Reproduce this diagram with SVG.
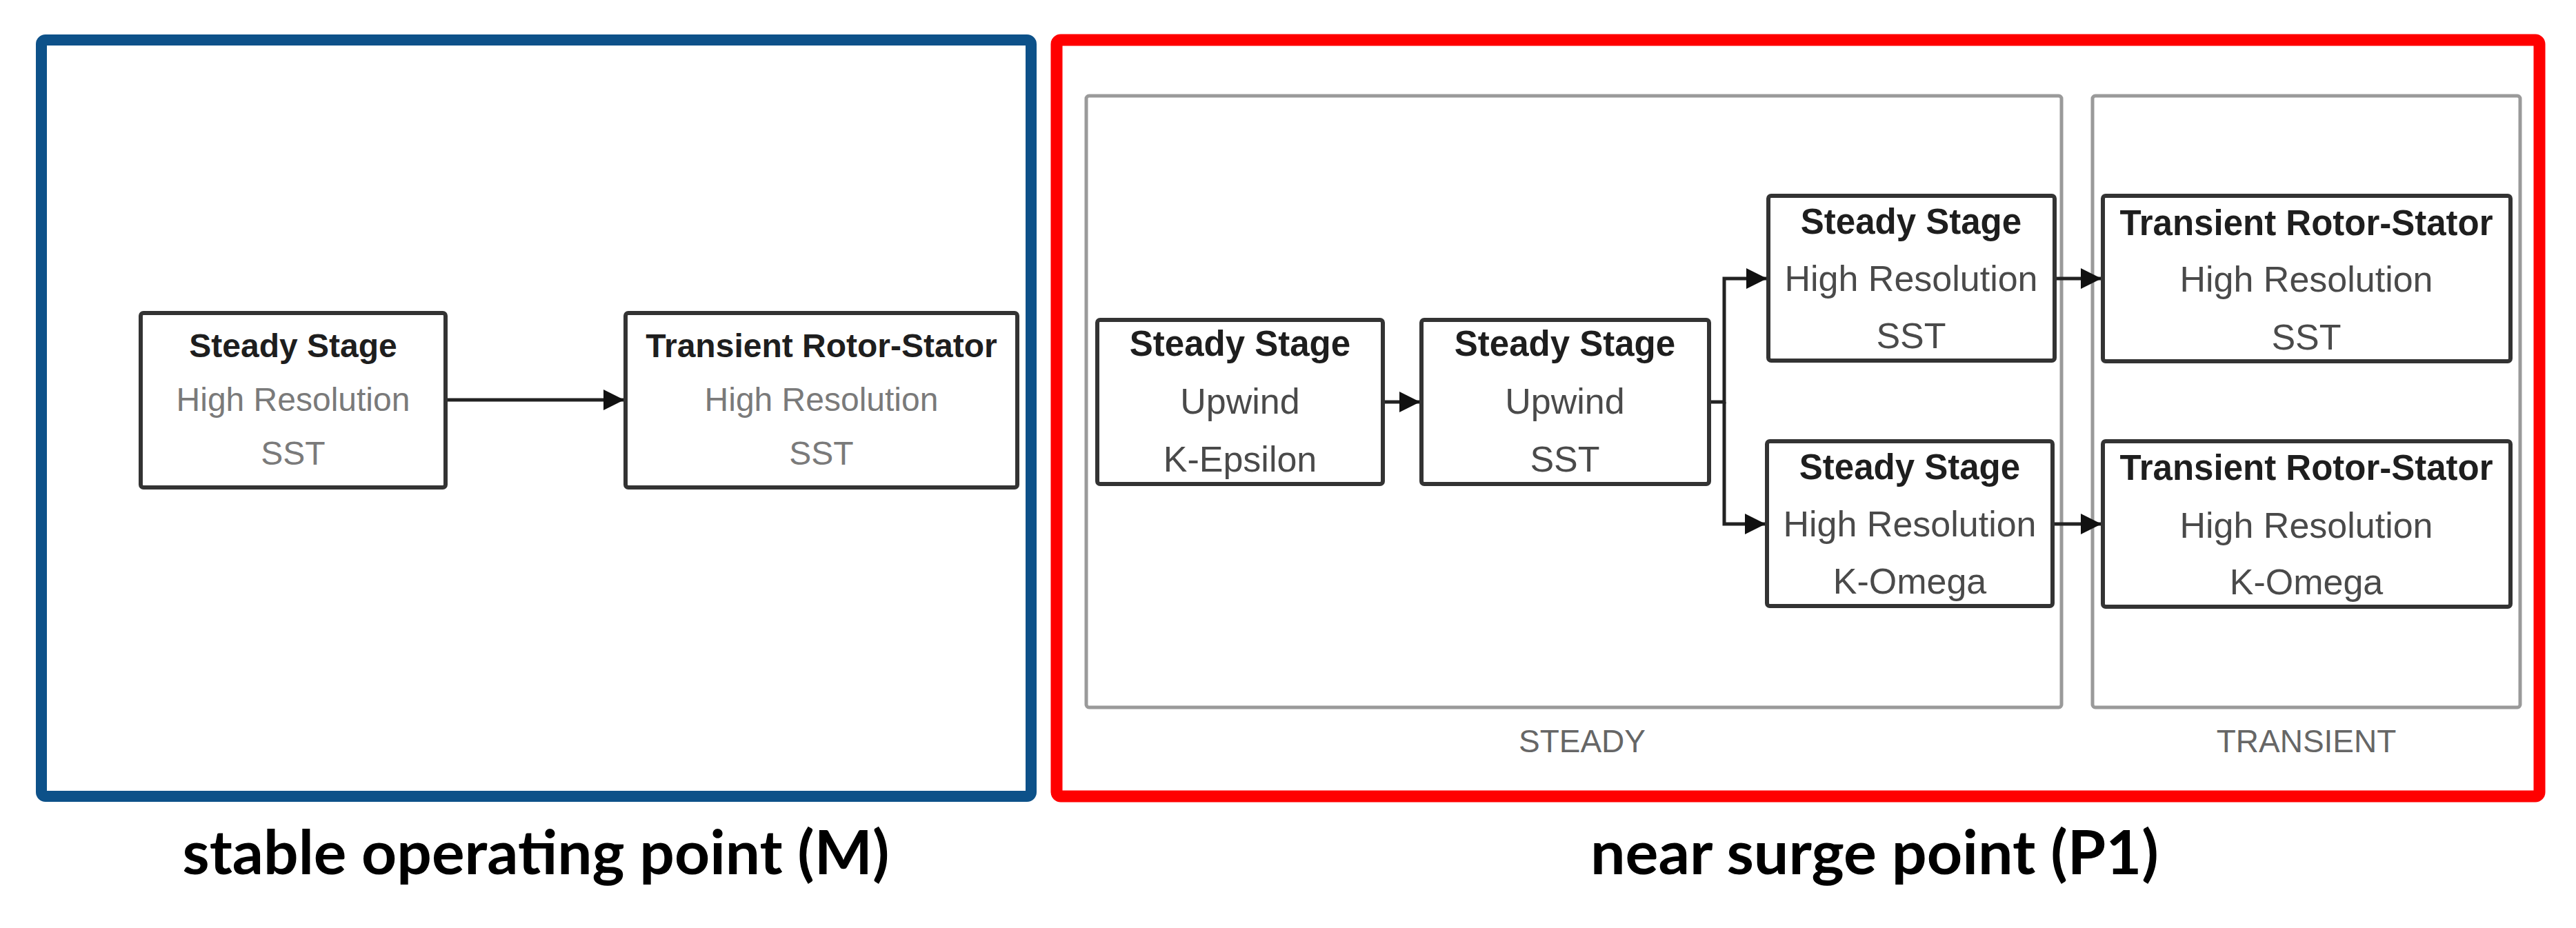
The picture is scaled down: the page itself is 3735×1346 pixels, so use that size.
<svg xmlns="http://www.w3.org/2000/svg" width="3735" height="1346" viewBox="0 0 3735 1346">
<style>
.node{fill:#fff;stroke:#333;stroke-width:6}
.cont{fill:none;stroke:#9a9a9a;stroke-width:5}
.t{font-family:"Liberation Sans",Arial,sans-serif;text-anchor:middle}
.b{font-weight:bold;fill:#1e1e1e}
.gl{fill:#7a7a7a}
.gr{fill:#4a4a4a}
.L{font-size:48px}
.R{font-size:52px}
.Rb{font-size:51px}
.lab{font-family:"Liberation Sans",Arial,sans-serif;font-size:46px;fill:#666;text-anchor:middle}
.cap{font-family:Lato,"Open Sans",sans-serif;font-weight:bold;font-size:88px;fill:#000;text-anchor:middle}
.c{fill:none;stroke:#222;stroke-width:5}
</style>
<defs>
<marker id="ah" markerUnits="userSpaceOnUse" markerWidth="32" markerHeight="30" refX="30" refY="15" orient="auto">
<path d="M0,0 L30,15 L0,30 Z" fill="#111"/>
</marker>
</defs>
<rect width="3735" height="1346" fill="#fff"/>
<g id="frame-M">
<rect x="60" y="58" width="1435" height="1097" rx="6" fill="none" stroke="#0d5189" stroke-width="16"/>
<text class="cap" x="777" y="1268" textLength="1025" lengthAdjust="spacingAndGlyphs">stable operating point (M)</text>
</g>
<g id="frame-P1">
<rect x="1532" y="58" width="2150" height="1097" rx="6" fill="none" stroke="#ff0000" stroke-width="17"/>
<text class="cap" x="2718" y="1268" textLength="824" lengthAdjust="spacingAndGlyphs">near surge point (P1)</text>
</g>
<g id="group-steady">
<rect class="cont" x="1575" y="139" width="1414" height="887" rx="4"/>
<text class="lab" x="2294" y="1091">STEADY</text>
</g>
<g id="group-transient">
<rect class="cont" x="3034" y="139" width="620" height="887" rx="4"/>
<text class="lab" x="3344" y="1091">TRANSIENT</text>
</g>
<g id="connectors">
<line class="c" x1="646" y1="580" x2="905" y2="580" marker-end="url(#ah)"/>
<line class="c" x1="2005" y1="583" x2="2059" y2="583" marker-end="url(#ah)"/>
<polyline class="c" points="2478,583 2500,583 2500,404 2562,404" marker-end="url(#ah)"/>
<polyline class="c" points="2500,583 2500,760 2560,760" marker-end="url(#ah)"/>
<line class="c" x1="2979" y1="404" x2="3047" y2="404" marker-end="url(#ah)"/>
<line class="c" x1="2976" y1="760" x2="3047" y2="760" marker-end="url(#ah)"/>
</g>
<g id="m-steady">
<rect class="node" x="204" y="454" width="442" height="253" rx="4"/>
<text class="t b L" x="425" y="518">Steady Stage</text>
<text class="t gl L" x="425" y="596">High Resolution</text>
<text class="t gl L" x="425" y="674">SST</text>
</g>
<g id="m-transient">
<rect class="node" x="907" y="454" width="568" height="253" rx="4"/>
<text class="t b L" x="1191" y="518">Transient Rotor-Stator</text>
<text class="t gl L" x="1191" y="596">High Resolution</text>
<text class="t gl L" x="1191" y="674">SST</text>
</g>
<g id="p-n1">
<rect class="node" x="1591" y="464" width="414" height="238" rx="4"/>
<text class="t b Rb" x="1798" y="516">Steady Stage</text>
<text class="t gr R" x="1798" y="600">Upwind</text>
<text class="t gr R" x="1798" y="684">K-Epsilon</text>
</g>
<g id="p-n2">
<rect class="node" x="2061" y="464" width="417" height="238" rx="4"/>
<text class="t b Rb" x="2269" y="516">Steady Stage</text>
<text class="t gr R" x="2269" y="600">Upwind</text>
<text class="t gr R" x="2269" y="684">SST</text>
</g>
<g id="p-n3">
<rect class="node" x="2564" y="284" width="415" height="239" rx="4"/>
<text class="t b Rb" x="2771" y="339">Steady Stage</text>
<text class="t gr R" x="2771" y="422">High Resolution</text>
<text class="t gr R" x="2771" y="505">SST</text>
</g>
<g id="p-n4">
<rect class="node" x="2562" y="640" width="414" height="239" rx="4"/>
<text class="t b Rb" x="2769" y="695">Steady Stage</text>
<text class="t gr R" x="2769" y="778">High Resolution</text>
<text class="t gr R" x="2769" y="861">K-Omega</text>
</g>
<g id="p-t1">
<rect class="node" x="3049" y="284" width="591" height="240" rx="4"/>
<text class="t b Rb" x="3344" y="341">Transient Rotor-Stator</text>
<text class="t gr R" x="3344" y="423">High Resolution</text>
<text class="t gr R" x="3344" y="507">SST</text>
</g>
<g id="p-t2">
<rect class="node" x="3049" y="640" width="591" height="240" rx="4"/>
<text class="t b Rb" x="3344" y="696">Transient Rotor-Stator</text>
<text class="t gr R" x="3344" y="780">High Resolution</text>
<text class="t gr R" x="3344" y="862">K-Omega</text>
</g>
</svg>
